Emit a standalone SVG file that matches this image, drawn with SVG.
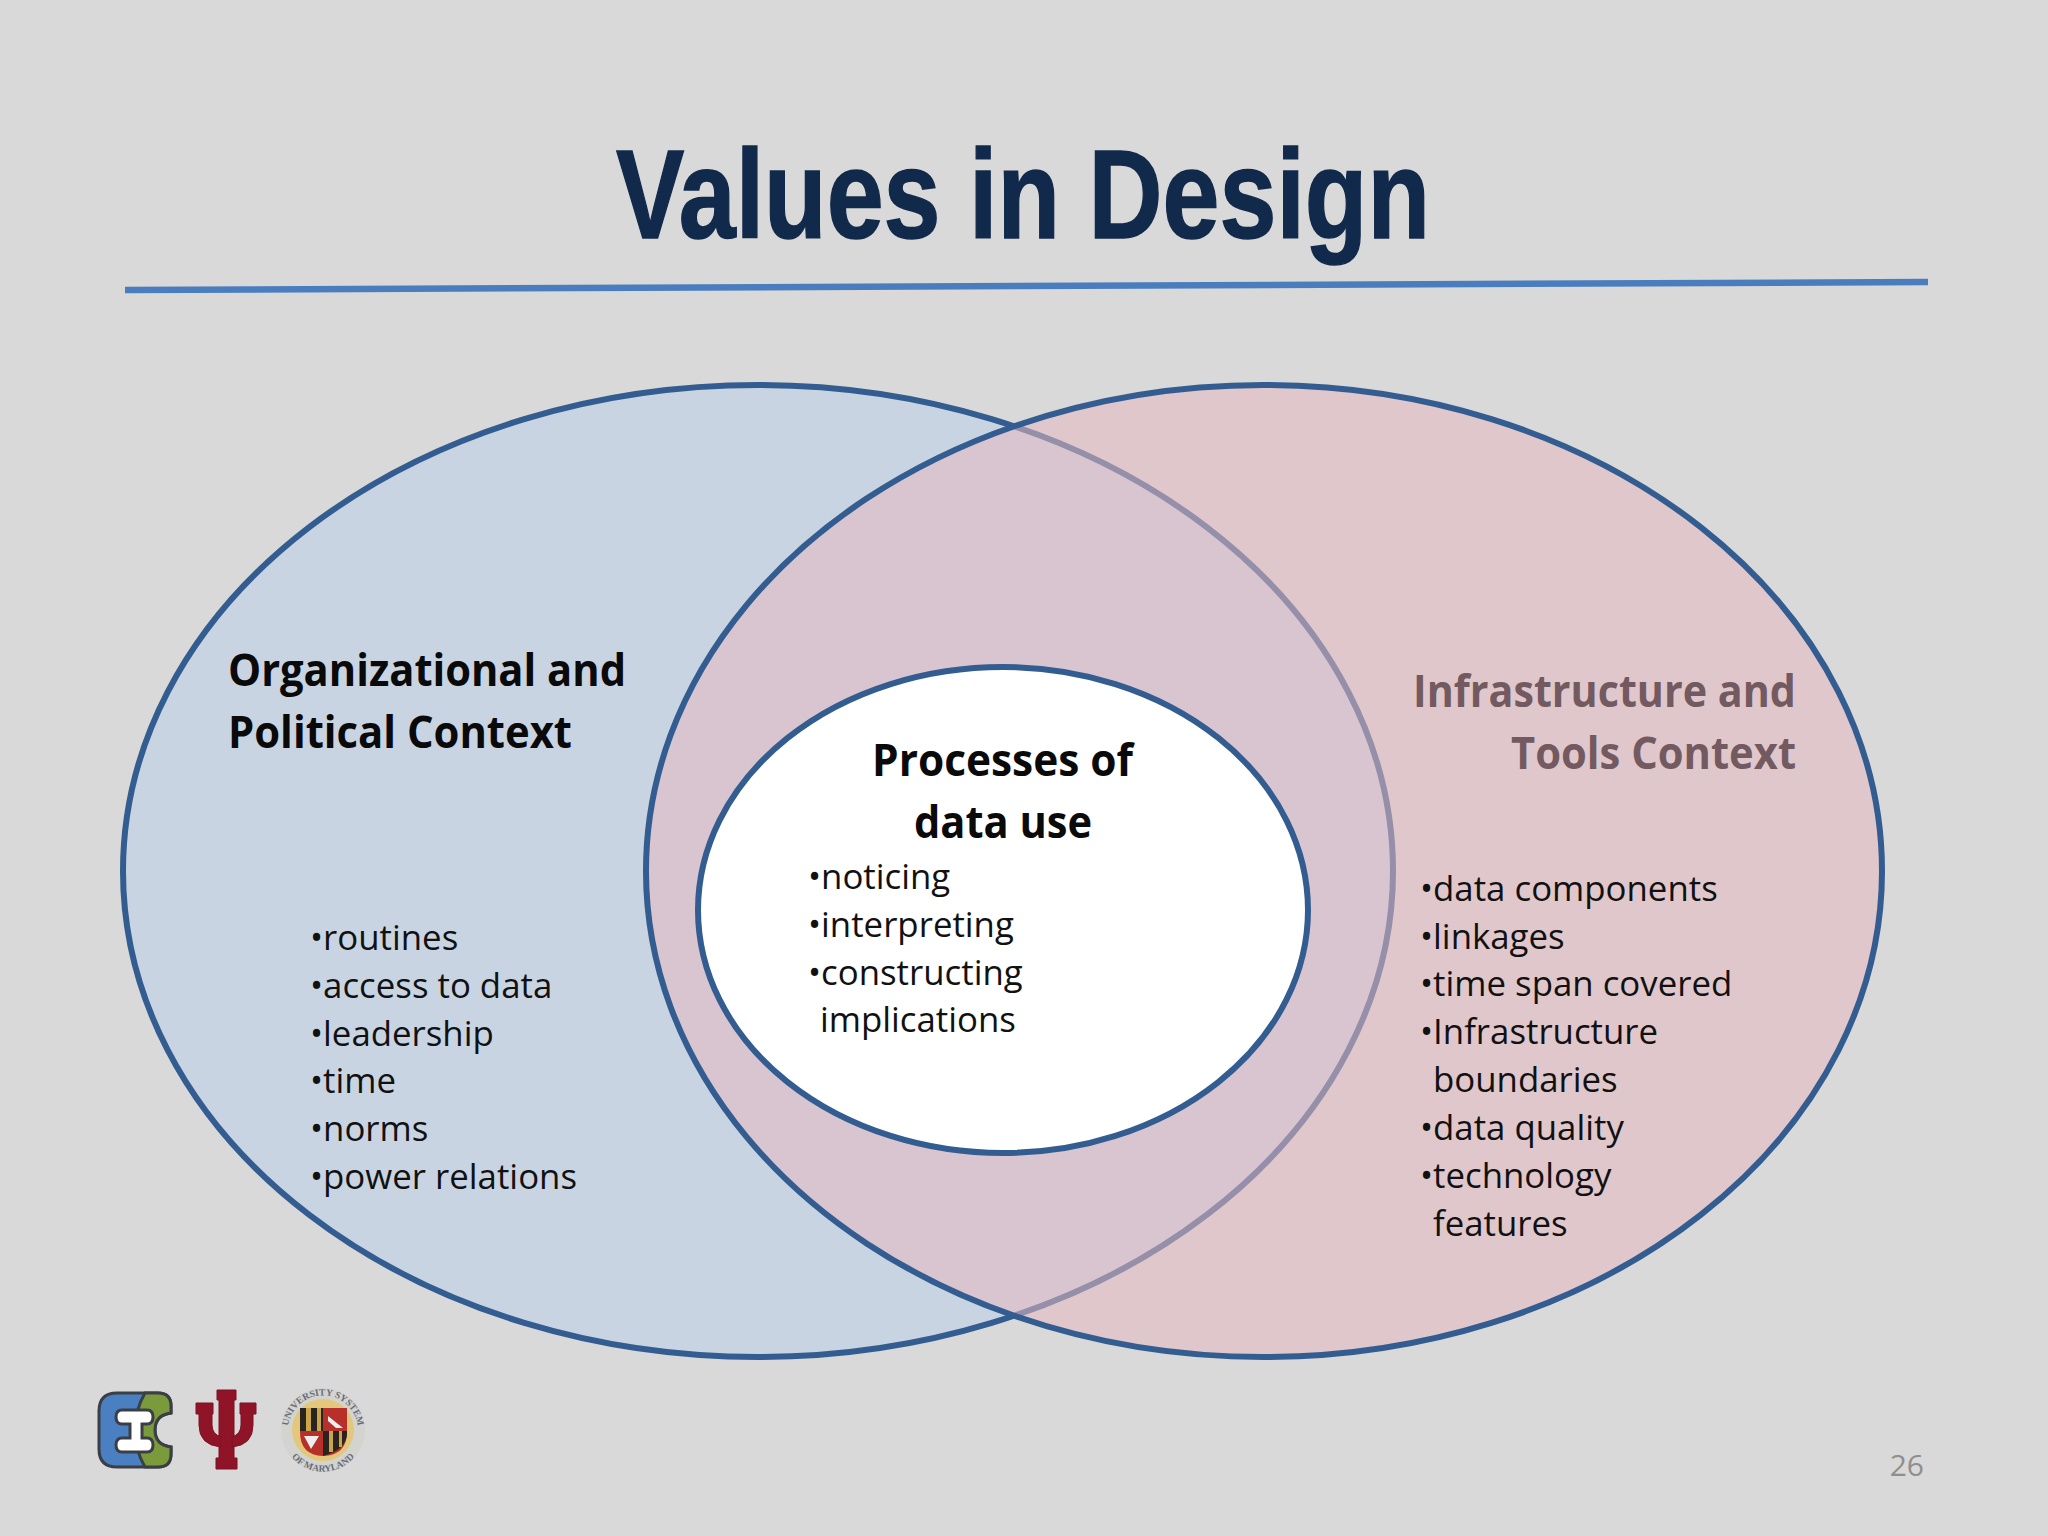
<svg xmlns="http://www.w3.org/2000/svg" width="2048" height="1536" viewBox="0 0 2048 1536">
<style>
.h{font-family:"Open Sans","Noto Sans",sans-serif;font-weight:700;font-size:44px;fill:#0a0a0a}
.i{fill:#725a60}
.b{font-family:"Open Sans","Noto Sans",sans-serif;font-size:34.8px;fill:#111}
.e{stroke:#335d90;stroke-width:6}
.s{font-family:"Liberation Serif",serif;font-size:9.5px;font-weight:700;fill:#666c78;text-anchor:middle}
</style>
<rect width="2048" height="1536" fill="#d9d9d9"/>
<text id="title" x="616" y="238" textLength="814" lengthAdjust="spacingAndGlyphs" font-family="Liberation Sans" font-weight="700" font-size="126" fill="#11294a" stroke="#11294a" stroke-width="1.5">Values in Design</text>
<path id="rule" d="M125 290L1928 282" stroke="#4a7dbd" stroke-width="6.5" fill="none"/>
<g id="left"><ellipse class="e" cx="758" cy="871" rx="635" ry="486" fill="#c9d4e2"/></g>
<g id="right"><ellipse cx="1264" cy="871" rx="618" ry="486" fill="#e6b8c0" fill-opacity=".55"/>
<path class="e" fill="none" d="M1015 426A618 486 0 0 1 1264 385A618 486 0 0 1 1264 1357A618 486 0 0 1 1015 1316A618 486 0 0 1 646 871A618 486 0 0 1 1015 426Z"/></g>
<g id="center"><ellipse class="e" cx="1003" cy="910" rx="305" ry="243" fill="#fff"/>
<text class="h" x="872" y="776" textLength="261" lengthAdjust="spacingAndGlyphs">Processes of</text><text class="h" x="914" y="838" textLength="178" lengthAdjust="spacingAndGlyphs">data use</text>
<text class="b"><tspan x="808" y="889">•noticing</tspan><tspan x="808" y="936.5">•interpreting</tspan><tspan x="808" y="984.5">•constructing</tspan><tspan x="820" y="1032">implications</tspan></text></g>
<g id="org"><text class="h" x="228" y="686" textLength="398" lengthAdjust="spacingAndGlyphs">Organizational and</text><text class="h" x="228" y="748" textLength="344" lengthAdjust="spacingAndGlyphs">Political Context</text>
<text class="b"><tspan x="310" y="950">•routines</tspan><tspan x="310" y="997.5">•access to data</tspan><tspan x="310" y="1045.5">•leadership</tspan><tspan x="310" y="1093">•time</tspan><tspan x="310" y="1141">•norms</tspan><tspan x="310" y="1189">•power relations</tspan></text></g>
<g id="infra"><text class="h i" x="1413" y="707" textLength="383" lengthAdjust="spacingAndGlyphs">Infrastructure and</text><text class="h i" x="1511" y="769" textLength="285" lengthAdjust="spacingAndGlyphs">Tools Context</text>
<text class="b"><tspan x="1420" y="901">•data components</tspan><tspan x="1420" y="948.5">•linkages</tspan><tspan x="1420" y="996">•time span covered</tspan><tspan x="1420" y="1044">•Infrastructure</tspan><tspan x="1433" y="1092">boundaries</tspan><tspan x="1420" y="1140">•data quality</tspan><tspan x="1420" y="1188">•technology</tspan><tspan x="1433" y="1236">features</tspan></text></g>
<g id="logo-i" stroke="#3a3f45" stroke-width="3">
<path d="M99 1411Q99 1393 117 1393H158Q171 1393 171 1406V1413Q155 1415 155 1430Q155 1445 171 1447V1454Q171 1467 158 1467H117Q99 1467 99 1449Z" fill="#4a7fc1"/>
<path d="M145 1393H158Q171 1393 171 1406V1413Q155 1415 155 1430Q155 1445 171 1447V1454Q171 1467 158 1467H145Q135 1450 135 1430Q135 1410 145 1393Z" fill="#7a9a3c"/>
<path d="M122 1410H147Q153 1410 153 1417Q153 1424 147 1424H142V1438H147Q153 1438 153 1445Q153 1452 147 1452H122Q116 1452 116 1445Q116 1438 122 1438H130V1424H122Q116 1424 116 1417Q116 1410 122 1410Z" fill="#fff"/>
</g>
<g id="logo-iu" fill="#8f1428" stroke="#7d1024" stroke-width="1"><path d="M217 1390H236V1400H234V1458H237V1469H216V1458H219V1400H217Z"/><path d="M196 1403H213V1414H212V1425Q212 1434 221 1437V1447Q199 1445 199 1425V1414H196Z"/><path d="M256 1403H240V1414H241V1425Q241 1434 232 1437V1447Q253 1445 253 1425V1414H256Z"/></g>
<g id="logo-umd"><circle cx="323" cy="1430" r="42" fill="#d3d3d0"/><circle cx="323" cy="1430" r="31" fill="#e3c77a"/>
<path d="M300 1408H347V1432Q347 1455 323 1456Q300 1455 300 1432Z" fill="#b8302a"/>
<path d="M300 1408H323V1431H300ZM323 1431H347V1434Q346 1450 323 1456Z" fill="#2a2420"/>
<path d="M306 1408H311V1431H306ZM317 1408H321V1431H317ZM329 1431H333V1452H329ZM339 1431H342V1447H339Z" fill="#c9a648"/>
<path d="M328 1416L343 1428H336L328 1421ZM304 1436H319L311 1449Z" fill="#eee"/>
<path id="arc1" d="M290 1442A35 35 0 1 1 356 1442" fill="none"/><path id="arc2" d="M285 1446A41 41 0 0 0 361 1446" fill="none"/>
<text class="s"><textPath href="#arc1" startOffset="50%">UNIVERSITY SYSTEM</textPath></text>
<text class="s"><textPath href="#arc2" startOffset="50%">OF MARYLAND</textPath></text></g>
<text id="page" x="1924" y="1476" text-anchor="end" font-family="Open Sans" font-size="30" fill="#8f8f8f">26</text>
</svg>
